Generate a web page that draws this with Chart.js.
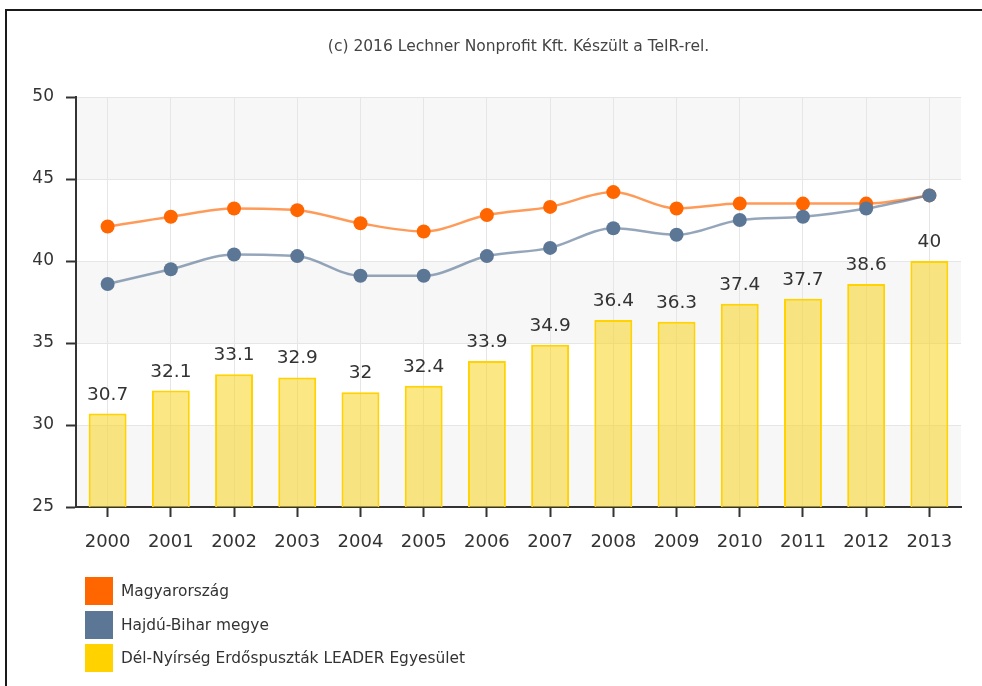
<!DOCTYPE html>
<html>
<head>
<meta charset="utf-8">
<script src="https://cdn.jsdelivr.net/npm/chart.js@4/dist/chart.umd.min.js"></script>
<style>
  html,body{margin:0;padding:0;background:#fff;}
  body{width:982px;height:686px;position:relative;overflow:hidden;font-family:"DejaVu Sans",Verdana,sans-serif;}
  #c{position:absolute;left:0;top:0;}
  .frameTop{position:absolute;left:5px;top:9px;width:977px;height:2px;background:#1a1a1a;}
  .frameLeft{position:absolute;left:5px;top:9px;width:2px;height:677px;background:#1a1a1a;}
  #legend{position:absolute;left:85px;top:577px;}
  .li{position:relative;height:33.5px;}
  .sw{position:absolute;left:0;top:0;width:28px;height:28px;}
  .lt{position:absolute;left:36px;top:5px;font-size:15.4px;color:#333;white-space:nowrap;line-height:18px;}
</style>
</head>
<body>
<canvas id="c" width="982" height="686"></canvas>
<div class="frameTop"></div>
<div class="frameLeft"></div>
<div id="legend"></div>
<script>
const titleText = "(c) 2016 Lechner Nonprofit Kft. Készült a TeIR-rel.";
const years = ["2000","2001","2002","2003","2004","2005","2006","2007","2008","2009","2010","2011","2012","2013"];
const magyarorszag = [42.1, 42.7, 43.2, 43.1, 42.3, 41.8, 42.8, 43.3, 44.2, 43.2, 43.5, 43.5, 43.5, 44.0];
const hajduBihar = [38.6, 39.5, 40.4, 40.3, 39.1, 39.1, 40.3, 40.8, 42.0, 41.6, 42.5, 42.7, 43.2, 44.0];
const delNyirseg = [30.7, 32.1, 33.1, 32.9, 32, 32.4, 33.9, 34.9, 36.4, 36.3, 37.4, 37.7, 38.6, 40];
const seriesNames = ["Magyarország", "Hajdú-Bihar megye", "Dél-Nyírség Erdőspuszták LEADER Egyesület"];
const yMin = 25, yMax = 50, yStep = 5;

const FONT = '"DejaVu Sans", Verdana, sans-serif';

const bandsPlugin = {
  id: 'bands',
  beforeDraw(chart) {
    const {ctx, chartArea: a, scales: {y}} = chart;
    ctx.save();
    ctx.fillStyle = '#ffffff';
    ctx.fillRect(0, 0, chart.width, chart.height);
    let k = 0;
    for (let v = yMin; v < yMax; v += yStep, k++) {
      if (k % 2 === 0) {
        const top = y.getPixelForValue(v + yStep);
        const bot = y.getPixelForValue(v);
        ctx.fillStyle = '#f7f7f7';
        ctx.fillRect(a.left, top, a.right - a.left, bot - top);
      }
    }
    ctx.restore();
  }
};

const labelsPlugin = {
  id: 'barLabels',
  afterDatasetsDraw(chart) {
    const ctx = chart.ctx;
    const idx = chart.data.datasets.findIndex(d => d.type === 'bar');
    const meta = chart.getDatasetMeta(idx);
    ctx.save();
    ctx.font = '18.5px ' + FONT;
    ctx.fillStyle = '#333333';
    ctx.textAlign = 'center';
    ctx.textBaseline = 'alphabetic';
    meta.data.forEach((bar, i) => {
      ctx.fillText(String(delNyirseg[i]), bar.x, bar.y - 14);
    });
    ctx.restore();
  },
  afterDraw(chart) {
    const ctx = chart.ctx;
    const a = chart.chartArea;
    ctx.save();
    ctx.font = '15.5px ' + FONT;
    ctx.fillStyle = '#444444';
    ctx.textAlign = 'center';
    ctx.textBaseline = 'middle';
    ctx.fillText(titleText, (a.left + a.right) / 2, 47);
    ctx.restore();
  }
};

const orange = '#FF6600';
const blue = '#5C7796';
const yellow = '#FFD200';

const chart = new Chart(document.getElementById('c'), {
  type: 'bar',
  data: {
    labels: years,
    datasets: [
      {
        type: 'line', label: seriesNames[0], data: magyarorszag, order: 1,
        borderColor: 'rgba(255,102,0,0.65)', borderWidth: 2.5,
        pointBackgroundColor: orange, pointBorderColor: orange, pointBorderWidth: 0,
        pointRadius: 7, pointHoverRadius: 7, cubicInterpolationMode: 'monotone', fill: false,
        backgroundColor: orange
      },
      {
        type: 'line', label: seriesNames[1], data: hajduBihar, order: 0,
        borderColor: 'rgba(92,119,150,0.65)', borderWidth: 2.5,
        pointBackgroundColor: blue, pointBorderColor: blue, pointBorderWidth: 0,
        pointRadius: 7, pointHoverRadius: 7, cubicInterpolationMode: 'monotone', fill: false,
        backgroundColor: blue
      },
      {
        type: 'bar', label: seriesNames[2], data: delNyirseg, order: 2,
        backgroundColor: 'rgba(248,212,30,0.55)', borderColor: yellow, borderWidth: 2,
        barPercentage: 0.6, categoryPercentage: 1.0, borderSkipped: false
      }
    ]
  },
  options: {
    responsive: false,
    devicePixelRatio: 1,
    animation: false,
    layout: { padding: { top: 97, right: 21, left: 0, bottom: 0 } },
    plugins: { legend: { display: false }, tooltip: { enabled: false }, title: { display: false } },
    scales: {
      x: {
        type: 'category',
        offset: true,
        grid: { offset: false, color: '#e6e6e6', lineWidth: 1, tickColor: '#333333', tickLength: 10, tickWidth: 2 },
        border: { display: true, color: '#333333', width: 2 },
        ticks: { color: '#333333', font: { family: FONT, size: 18 }, padding: 15, maxRotation: 0, autoSkip: false },
        afterFit(s) { s.height = 179; }
      },
      y: {
        min: yMin, max: yMax,
        grid: { color: '#e6e6e6', lineWidth: 1, tickColor: '#333333', tickLength: 10, tickWidth: 2 },
        border: { display: true, color: '#333333', width: 2 },
        ticks: { stepSize: yStep, color: '#333333', font: { family: FONT, size: 17 }, padding: 12 },
        afterFit(s) { s.width = 76; }
      }
    }
  },
  plugins: [bandsPlugin, labelsPlugin]
});

// HTML legend
const legendColors = [orange, blue, yellow];
const lg = document.getElementById('legend');
chart.data.datasets.forEach((d, i) => {
  const row = document.createElement('div'); row.className = 'li';
  const sw = document.createElement('div'); sw.className = 'sw'; sw.style.background = legendColors[i];
  const t = document.createElement('div'); t.className = 'lt'; t.textContent = d.label;
  row.appendChild(sw); row.appendChild(t); lg.appendChild(row);
});
</script>
</body>
</html>
